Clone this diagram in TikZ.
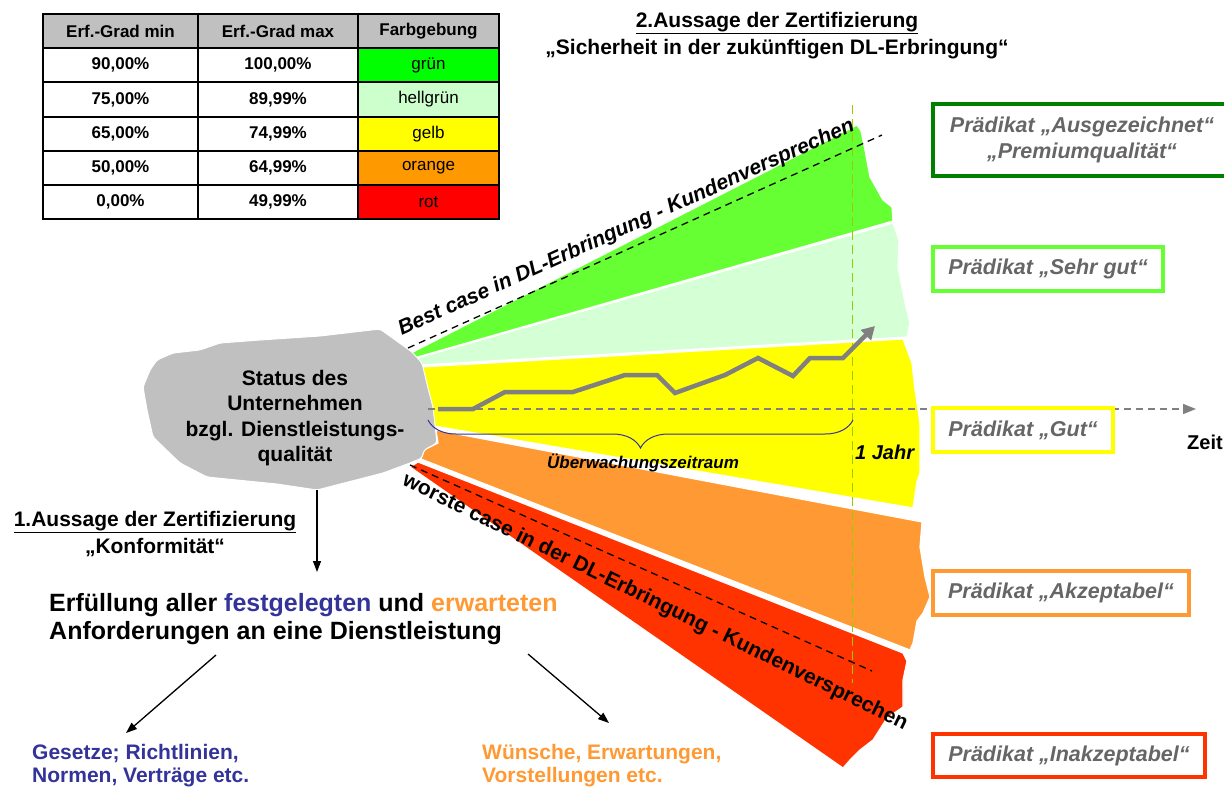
\documentclass[tikz,border=0pt]{standalone}
\usepackage{fontspec}
\setmainfont{Liberation Sans}
\usetikzlibrary{arrows.meta,decorations.pathreplacing}
\definecolor{cgreen}{HTML}{66FF33}
\definecolor{clight}{HTML}{D5FFD5}
\definecolor{cyellow}{HTML}{FFFF00}
\definecolor{corange}{HTML}{FF9933}
\definecolor{cred}{HTML}{FF3300}
\definecolor{cgray}{HTML}{C0C0C0}
\definecolor{tgreen}{HTML}{00FF00}
\definecolor{tlight}{HTML}{CCFFCC}
\definecolor{torange}{HTML}{FF9900}
\definecolor{tred}{HTML}{FF0000}
\definecolor{cblue}{HTML}{333399}
\definecolor{dgreen}{HTML}{008000}
\definecolor{vlinec}{HTML}{99CC00}
\definecolor{trendc}{HTML}{808080}
\definecolor{ptext}{HTML}{666666}
\begin{document}
\begin{tikzpicture}[x=1pt,y=-1pt,
  tabb/.style={font=\fontsize{17}{20}\selectfont\bfseries, inner sep=0pt},
  tabr/.style={font=\fontsize{17}{20}\selectfont, inner sep=0pt},
  titlef/.style={font=\fontsize{21}{27}\selectfont\bfseries, align=center, inner sep=0pt},
  band/.style={draw=white, line width=1.2pt},
  dline/.style={dash pattern=on 7pt off 5pt, line width=1.3pt},
  pbox/.style={draw, line width=3.5pt, minimum height=44pt, font=\fontsize{21.5}{26}\selectfont\bfseries\itshape, text=ptext, inner sep=0pt},
  arr/.style={-{Triangle[length=11pt,width=8pt]}, line width=1.3pt},
  slanted/.style={font=\fontsize{21}{25}\selectfont\bfseries, inner sep=0pt}
]
\useasboundingbox (0,0) rectangle (1224,790);

% ---------- table ----------
\fill[cgray] (43,14) rectangle (499,48);
\fill[tgreen] (358,48) rectangle (499,82);
\fill[tlight] (358,82) rectangle (499,117);
\fill[cyellow] (358,117) rectangle (499,151);
\fill[torange] (358,151) rectangle (499,185);
\fill[tred] (358,185) rectangle (499,219);
\draw[line width=1.5pt] (43,14) rectangle (499,219);
\foreach \yy in {48,82,117,151,185} \draw[line width=1.5pt] (43,\yy) -- (499,\yy);
\foreach \xx in {198,358} \draw[line width=1.5pt] (\xx,14) -- (\xx,219);
\node[tabb] (h1) at (120.5,31) {Erf.-Grad min};
\node[tabb] (h2) at (278,31) {Erf.-Grad max};
\node[tabb] (h3) at (428.5,31) {Farbgebung};
\node[tabb] (a1) at (120.5,65) {90,00\%};
\node[tabb] (b1) at (278,65) {100,00\%};
\node[tabr] (c1) at (428.5,65) {grün};
\node[tabb] (a2) at (120.5,99.5) {75,00\%};
\node[tabb] (b2) at (278,99.5) {89,99\%};
\node[tabr] (c2) at (428.5,99.5) {hellgrün};
\node[tabb] (a3) at (120.5,134) {65,00\%};
\node[tabb] (b3) at (278,134) {74,99\%};
\node[tabr] (c3) at (428.5,134) {gelb};
\node[tabb] (a4) at (120.5,168) {50,00\%};
\node[tabb] (b4) at (278,168) {64,99\%};
\node[tabr] (c4) at (428.5,168) {orange};
\node[tabb] (a5) at (120.5,202) {0,00\%};
\node[tabb] (b5) at (278,202) {49,99\%};
\node[tabr] (c5) at (428.5,202) {rot};

% ---------- titles ----------
\node[titlef] (t2) at (777,35.5) {\underline{2.Aussage der Zertifizierung}\\„Sicherheit in der zukünftigen DL-Erbringung“};
\node[titlef] (t1) at (155,534) {\underline{1.Aussage der Zertifizierung}\\„Konformität“};

% ---------- fan bands ----------
\path[band, fill=cgreen] (411,353) -- (857,125) -- (861,131) -- (864,145) -- (870,177) -- (883,200) -- (892,207) -- (893,221) -- (414,358) -- cycle;
\path[band, fill=clight] (414,359) -- (893,223) -- (899,240) -- (898,267) -- (905,303) -- (910,323) -- (907,337) -- (420,365) -- cycle;
\path[band, fill=cyellow] (421,367) -- (903,339) -- (912,363) -- (915,390) -- (920,423) -- (920,473) -- (917,482) -- (913,508) -- (434,426) -- cycle;
\path[band, fill=corange] (436,430) -- (922,522) -- (920,547) -- (925,577) -- (930,597) -- (923,613) -- (917,621) -- (913,643) -- (910,650) -- (421,459) -- (424,450) -- (438,443) -- cycle;
\path[band, fill=cred] (418,462) -- (903,653) -- (907,661) -- (903,680) -- (903,707) -- (887,718) -- (873,740) -- (860,750) -- (850,760) -- (843,768) -- (410,467) -- cycle;

% ---------- status blob ----------
\path[fill=cgray, draw=white, line width=1pt, rounded corners=3pt] (380,329) -- (412,352) -- (422,363) -- (428,388) -- (433,407) -- (435,425) -- (437,443) -- (424,450) -- (422,458) -- (410,463) -- (383,473) -- (317,490) -- (277,484) -- (207,477) -- (180,463) -- (153,437) -- (147,410) -- (143,387) -- (150,370) -- (157,360) -- (173,353) -- (200,350) -- (220,343) -- (260,340) -- (320,336) -- cycle;
\node[font=\fontsize{21}{25.5}\selectfont\bfseries, align=center, inner sep=0pt] (status) at (295,418) {Status des\\Unternehmen\\bzgl. Dienstleistungs-\\qualität};

% ---------- time axis, year line, trend ----------
\coordinate (vtop) at (852.7,105);
\coordinate (vbot) at (852.7,683);
\draw[vlinec, dash pattern=on 9pt off 5pt, line width=1.3pt] (vtop) -- (vbot);
\coordinate (ax0) at (428,409);
\coordinate (ax1) at (1196,409);
\draw[trendc, dash pattern=on 7pt off 5pt, line width=1.5pt, -{Triangle[length=13pt,width=10pt]}] (ax0) -- (ax1);
\draw[trendc, line width=4.5pt, line join=miter, -{Triangle[length=13pt,width=14pt]}] (438,409) -- (473,409) -- (505,392) -- (573,392) -- (625,375) -- (657,375) -- (675,393) -- (725,375) -- (758,358) -- (793,376) -- (810,358) -- (843,358) -- (875,326);
\coordinate (br0) at (428,420);
\coordinate (br1) at (853,420);
\draw[cblue, line width=1pt, decorate, decoration={brace, mirror, amplitude=28pt}] (br0) -- (br1);
\node[font=\fontsize{17}{20}\selectfont\bfseries\itshape, inner sep=0pt] (ueber) at (643,463) {Überwachungszeitraum};
\node[font=\fontsize{20}{24}\selectfont\bfseries\itshape, anchor=west, inner sep=0pt] (jahr) at (855,452) {1 Jahr};
\node[font=\fontsize{20}{24}\selectfont\bfseries, anchor=west, inner sep=0pt] (zeit) at (1187,442) {Zeit};

% ---------- best / worst case ----------
\coordinate (b0) at (408,348);
\coordinate (b1) at (882,135);
\draw[dline] (b0) -- (b1);
\coordinate (w0) at (410,465);
\coordinate (w1) at (872,671);
\draw[dline] (w0) -- (w1);
\node[slanted, font=\fontsize{21}{25}\selectfont\bfseries\itshape, rotate=24.4] (best) at (626.5,228) {Best case in DL-Erbringung - Kundenversprechen};
\node[slanted, rotate=-26] (worst) at (655,602.5) {worste case in der DL-Erbringung - Kundenversprechen};

% ---------- Prädikat boxes ----------
\draw[dgreen, line width=4.5pt] (1226,104) -- (933,104) -- (933,176) -- (1226,176);
\node[font=\fontsize{21.5}{26}\selectfont\bfseries\itshape, text=ptext, align=center, inner sep=0pt] (p1) at (1082,140) {Prädikat „Ausgezeichnet“\\„Premiumqualität“};
\node[pbox, draw=cgreen, minimum width=230pt] (p2) at (1048,269) {Prädikat „Sehr gut“};
\node[pbox, draw=cyellow, minimum width=180pt] (p3) at (1023,430) {Prädikat „Gut“};
\node[pbox, draw=corange, minimum width=256pt] (p4) at (1061,593) {Prädikat „Akzeptabel“};
\node[pbox, draw=cred, minimum width=272pt, minimum height=43pt] (p5) at (1069,755.5) {Prädikat „Inakzeptabel“};

% ---------- lower left ----------
\coordinate (blobbot) at (317,490);
\coordinate (erftop) at (317,572);
\draw[arr] (blobbot) -- (erftop);
\node[font=\fontsize{25}{28.5}\selectfont\bfseries, align=left, anchor=west, inner sep=0pt] (erf) at (49,619) {Erfüllung aller \textcolor{cblue}{festgelegten} und \textcolor{corange}{erwarteten}\\Anforderungen an eine Dienstleistung};
\node[font=\fontsize{21}{23}\selectfont\bfseries, text=cblue, align=left, anchor=west, inner sep=0pt] (ges) at (32,766) {Gesetze; Richtlinien,\\Normen, Verträge etc.};
\node[font=\fontsize{21}{23}\selectfont\bfseries, text=corange, align=left, anchor=west, inner sep=0pt] (wue) at (482,766) {Wünsche, Erwartungen,\\Vorstellungen etc.};
\coordinate (la0) at (216,655);
\coordinate (la1) at (126,733);
\coordinate (ra0) at (528,654);
\coordinate (ra1) at (609,723);
\draw[arr] (la0) -- (la1);
\draw[arr] (ra0) -- (ra1);
\end{tikzpicture}
\end{document}
